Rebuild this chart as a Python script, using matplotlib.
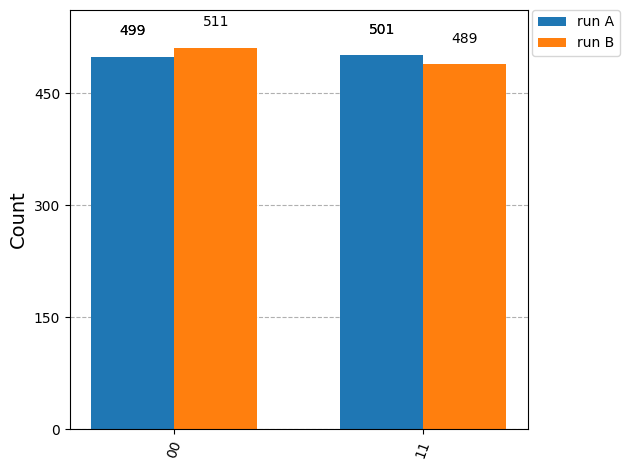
import matplotlib.pyplot as plt
import numpy as np

states = ["00", "11"]
run_a = [499, 501]
run_b = [511, 489]
legend_labels = ["run A", "run B"]

fig, ax = plt.subplots(figsize=(6.29, 4.70), dpi=100)
fig.subplots_adjust(left=0.111, right=0.839, bottom=0.087, top=0.979)

x = np.arange(len(states))
w = 1 / 3
bars_a = ax.bar(x - w / 2, run_a, w, color="#1f77b4", label=legend_labels[0], zorder=2)
bars_b = ax.bar(x + w / 2, run_b, w, color="#ff7f0e", label=legend_labels[1], zorder=2)

for bars, doubled in ((bars_a, True), (bars_b, False)):
    for rect in bars:
        h = rect.get_height()
        for _ in range(2 if doubled else 1):
            ax.text(rect.get_x() + rect.get_width() / 2, 1.05 * h, str(int(h)),
                    ha="center", va="bottom", fontsize=10)

ax.set_xticks(x)
ax.set_xticklabels(states, rotation=70, fontsize=10)
ax.set_yticks([0, 150, 300, 450])
ax.set_ylim(0, 1.1 * max(run_a + run_b))
ax.set_xlim(-0.42, 1.42)
ax.set_ylabel("Count", fontsize=14)
ax.yaxis.grid(True, linestyle="--", color="#b0b0b0", zorder=0)
ax.set_axisbelow(True)
ax.legend(bbox_to_anchor=(1.01, 1), loc="upper left", borderaxespad=0, frameon=True)

plt.savefig("out.png")
